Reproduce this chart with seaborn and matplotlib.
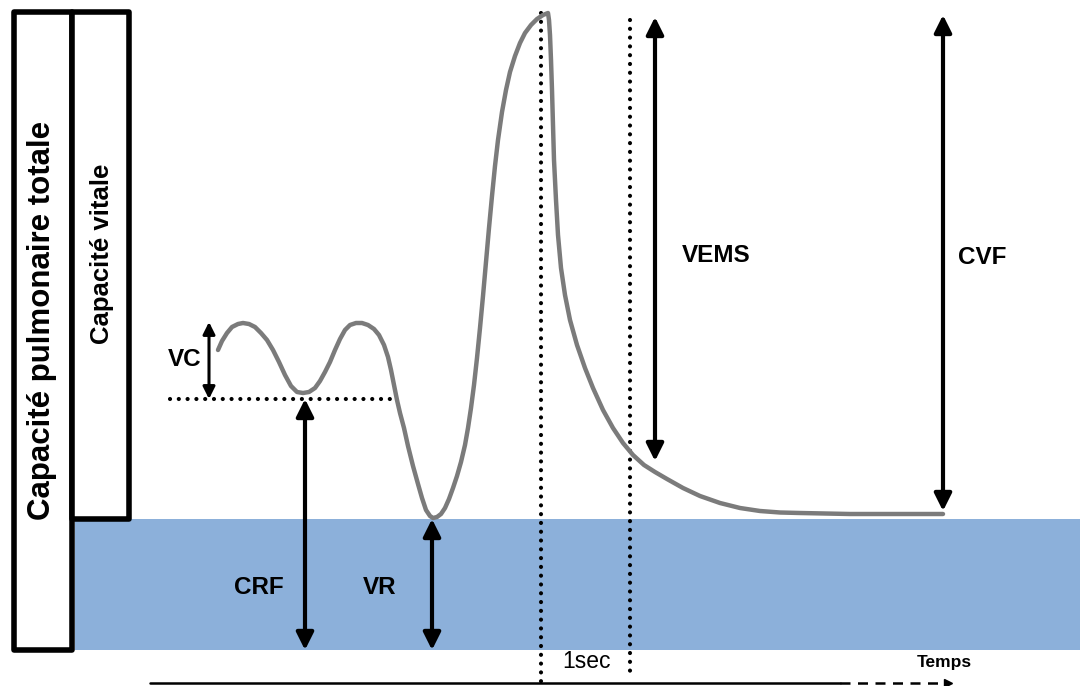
"""
Spirogramme : volumes et capacités pulmonaires (recréation du schéma).
"""
import matplotlib
matplotlib.use("Agg")
import matplotlib.pyplot as plt
from matplotlib.patches import Rectangle
import pandas as pd
import seaborn as sns

# courbe du spirogramme (unités = pixels de la figure, y vers le bas)
curve_t = [218, 222, 227, 232, 238, 243, 249, 255, 261, 267, 273, 279, 285, 291, 297, 303,
           309, 315, 320, 325, 330, 335, 340, 345, 350, 356, 362, 368, 374, 379, 384, 388,
           391, 394, 397, 400, 404, 408, 413, 418, 422, 426, 430, 433,
           437, 441, 445, 449, 453, 457, 461, 465, 468, 471, 474, 477, 480, 483, 486, 489,
           492, 495, 498, 502, 506, 510, 515, 520, 525, 531, 537, 543, 548,
           549, 550, 551, 552, 553, 554, 556, 558, 561, 565, 570, 577, 585, 593, 603, 613,
           623, 633, 644, 655, 667, 683, 700, 720, 740, 760, 780, 800, 850, 900, 943]
curve_v = [350, 341, 333, 327, 324, 323, 324, 327, 333, 340, 350, 362, 375, 386, 392, 393,
           392, 388, 381, 372, 362, 350, 339, 330, 325, 323, 323, 325, 329, 335, 345, 357,
           370, 385, 400, 413, 428, 446, 466, 484, 498, 510, 516, 518,
           517, 514, 508, 499, 488, 476, 462, 445, 428, 408, 385, 358, 328, 296, 262, 228,
           196, 166, 140, 112, 90, 72, 56, 43, 33, 25, 19, 15, 13,
           20, 35, 60, 90, 125, 160, 200, 235, 268, 295, 320, 345, 368, 388, 410, 428,
           443, 455, 465, 472, 479, 488, 496, 503, 508, 511, 512.5, 513, 514, 514, 514]

# niveaux de référence
level_top = 13        # capacité pulmonaire totale (haut du pic)
level_crf = 399       # fin d'expiration calme
level_vr = 519        # volume résiduel
level_zero = 650      # volume nul
t_peak = 541          # début de l'expiration forcée
t_1sec = 630          # 1 seconde après

labels = ["VC", "CRF", "VR", "VEMS", "CVF"]

BLUE = "#8cb0da"
GREY = "#7b7b7b"

sns.set_style("white")
plt.rcParams["font.family"] = ["Liberation Sans", "DejaVu Sans"]
plt.rcParams["text.color"] = "black"

fig = plt.figure(figsize=(10.8, 6.86), dpi=100)
ax = fig.add_axes([0, 0, 1, 1])
ax.set_xlim(0, 1080)
ax.set_ylim(686, 0)
ax.axis("off")

# zone bleue = volume résiduel
ax.add_patch(Rectangle((75, level_vr), 1080 - 75, level_zero - level_vr,
                       facecolor=BLUE, edgecolor="none", zorder=0))

# boîtes de gauche
ax.add_patch(Rectangle((14, 12), 58, level_zero - 12, facecolor="white",
                       edgecolor="black", lw=4, joinstyle="round", zorder=3))
ax.add_patch(Rectangle((72, 12), 57, level_vr - 12, facecolor="white",
                       edgecolor="black", lw=4, joinstyle="round", zorder=3))
ax.text(42, 320, "Capacité pulmonaire totale", rotation=90, ha="center", va="center",
        fontsize=22.5, fontweight="bold", zorder=4)
ax.text(102, 254, "Capacité vitale", rotation=90, ha="center", va="center",
        fontsize=18.5, fontweight="bold", zorder=4)

# lignes pointillées
dots = dict(color="black", lw=3, linestyle=(0, (0.01, 2.1)), dash_capstyle="round", zorder=2)
ax.plot([170, 397], [level_crf, level_crf], **dots)
ax.plot([t_peak, t_peak], [level_top, 686], **dots)
ax.plot([t_1sec, t_1sec], [20, 676], **dots)

# courbe
df = pd.DataFrame({"t": curve_t, "v": curve_v})
sns.lineplot(data=df, x="t", y="v", sort=False, estimator=None, color=GREY,
             lw=3.2, ax=ax, zorder=3, solid_joinstyle="round")


def double_arrow(x, y0, y1, lw=3, size=26):
    ax.annotate("", xy=(x, y1), xytext=(x, y0),
                arrowprops=dict(arrowstyle="<|-|>", color="black", lw=lw,
                                mutation_scale=size, shrinkA=0, shrinkB=0), zorder=4)


double_arrow(209, 322, level_crf, lw=2.2, size=18)
double_arrow(305, level_crf, level_zero)
double_arrow(432, level_vr, level_zero)
double_arrow(655, 17, 461)
double_arrow(943, 15, 511)

bold = dict(fontsize=17.5, fontweight="bold", ha="center", va="center", zorder=5)
ax.text(185, 360, labels[0], **bold)
ax.text(259, 588, labels[1], **bold)
ax.text(380, 588, labels[2], **bold)
ax.text(716, 255, labels[3], **bold)
ax.text(982, 258, labels[4], **bold)

# axe du temps
ax.text(587, 662, "1sec", fontsize=16.5, ha="center", va="center")
ax.text(944, 663, "Temps", fontsize=12.5, fontweight="bold", ha="center", va="center")
ax.plot([150, 840], [683, 683], color="black", lw=1.8)
ax.plot([840, 945], [683, 683], color="black", lw=1.8, linestyle=(0, (4, 3)))
ax.plot([948], [683], marker=">", color="black", markersize=6)

fig.savefig("out.png", dpi=100)
